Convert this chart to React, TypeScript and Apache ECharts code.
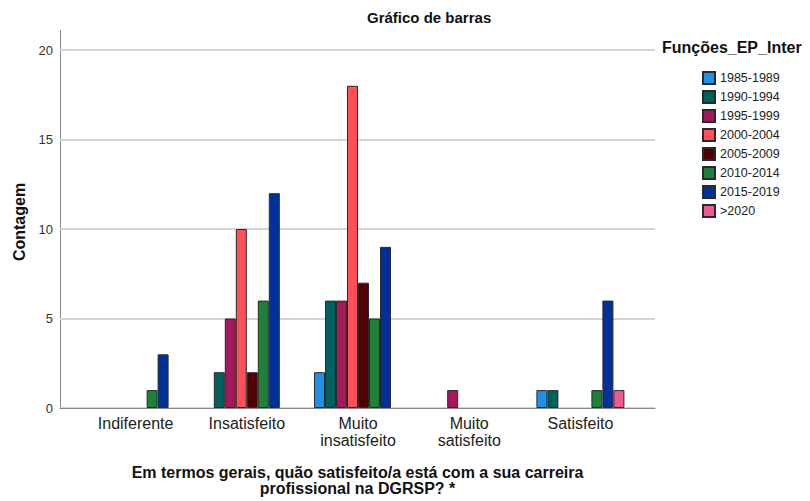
import React, { useEffect, useRef } from "react";
import * as echarts from "echarts";

const categories = ["Indiferente", "Insatisfeito", "Muito\ninsatisfeito", "Muito\nsatisfeito", "Satisfeito"];
const seriesNames = ["1985-1989", "1990-1994", "1995-1999", "2000-2004", "2005-2009", "2010-2014", "2015-2019", ">2020"];
const v1985 = [null, null, 2, null, 1];
const v1990 = [null, 2, 6, null, 1];
const v1995 = [null, 5, 6, 1, null];
const v2000 = [null, 10, 18, null, null];
const v2005 = [null, 2, 7, null, null];
const v2010 = [1, 6, 5, null, 1];
const v2015 = [3, 12, 9, null, 6];
const v2020 = [null, null, null, null, 1];
const seriesValues = [v1985, v1990, v1995, v2000, v2005, v2010, v2015, v2020];
const colors = ["#1E90E6", "#00605E", "#A3195B", "#FF4F58", "#520006", "#1F8039", "#00309A", "#EE5A93"];
const yTicks = [0, 5, 10, 15, 20];

const FONT = "'Liberation Sans', Arial, sans-serif";

export default function App() {
  const ref = useRef<HTMLDivElement>(null);
  useEffect(() => {
    if (!ref.current) return;
    const chart = echarts.init(ref.current, null, { renderer: "svg" });
    chart.setOption({
      animation: false,
      textStyle: { fontFamily: FONT },
      legend: {
        orient: "vertical",
        left: 697,
        top: 66,
        itemWidth: 12,
        itemHeight: 12,
        itemGap: 5,
        icon: "rect",
        data: seriesNames,
        textStyle: { fontSize: 12.5, lineHeight: 12, color: "#222", fontFamily: FONT },
      },
      graphic: [
        {
          type: "text",
          x: 367,
          y: 17,
          style: { text: "Gráfico de barras", font: "bold 15px " + FONT, fill: "#111", textVerticalAlign: "middle" },
        },
        {
          type: "text",
          x: 662,
          y: 47,
          style: { text: "Funções_EP_Inter", font: "bold 16px " + FONT, fill: "#111", textVerticalAlign: "middle" },
        },
        {
          type: "text",
          x: 19,
          y: 222,
          rotation: Math.PI / 2,
          style: {
            text: "Contagem",
            font: "bold 16px " + FONT,
            fill: "#111",
            textAlign: "center",
            textVerticalAlign: "middle",
          },
        },
        {
          type: "line",
          shape: { x1: 60.5, y1: 30, x2: 60.5, y2: 408 },
          style: { stroke: "#888", lineWidth: 1 },
        },
      ],
      grid: [
        { left: 60, right: 155, top: 50, bottom: 93, outerBoundsMode: "none", containLabel: false },
        { left: 80, right: 174, top: 50, bottom: 93, outerBoundsMode: "none", containLabel: false },
      ],
      xAxis: [
        {
          gridIndex: 0,
          type: "value",
          min: 0,
          max: 1,
          axisLine: { show: true, onZero: false, lineStyle: { color: "#888", width: 1 } },
          axisTick: { show: false },
          axisLabel: { show: false },
          splitLine: { show: false },
          name: "Em termos gerais, quão satisfeito/a está com a sua carreira\nprofissional na DGRSP? *",
          nameLocation: "middle",
          nameGap: 56,
          nameTextStyle: { fontSize: 16, fontWeight: "bold", color: "#111", lineHeight: 16, fontFamily: FONT },
        },
        {
          gridIndex: 1,
          type: "category",
          data: categories,
          axisLine: { show: false },
          axisTick: { show: false },
          axisLabel: { fontSize: 16, color: "#222", margin: 7, lineHeight: 17, fontFamily: FONT, interval: 0 },
        },
      ],
      yAxis: [
        {
          gridIndex: 0,
          type: "value",
          min: 0,
          max: 20,
          interval: 5,
          axisLine: { show: false },
          axisTick: { show: false },
          axisLabel: {
            fontSize: 13,
            color: "#333",
            margin: 7,
            fontFamily: FONT,
            formatter: (v: number) => (yTicks.includes(v) ? String(v) : ""),
          },
          splitLine: { show: true, lineStyle: { color: "#d4d4d4", width: 2 } },
        },
        {
          gridIndex: 1,
          type: "value",
          min: 0,
          max: 20,
          interval: 5,
          show: false,
          splitLine: { show: false },
        },
      ],
      series: seriesNames.map((name, i) => ({
        name,
        type: "bar",
        xAxisIndex: 1,
        yAxisIndex: 1,
        data: seriesValues[i],
        barWidth: 11,
        barGap: "0%",
        itemStyle: { color: colors[i], borderColor: "#2a2a2a", borderWidth: 1 },
      })),
    });
    return () => chart.dispose();
  }, []);
  return (
    <div
      ref={ref}
      style={{ position: "absolute", left: 0, top: 0, width: 810, height: 501 }}
    />
  );
}
